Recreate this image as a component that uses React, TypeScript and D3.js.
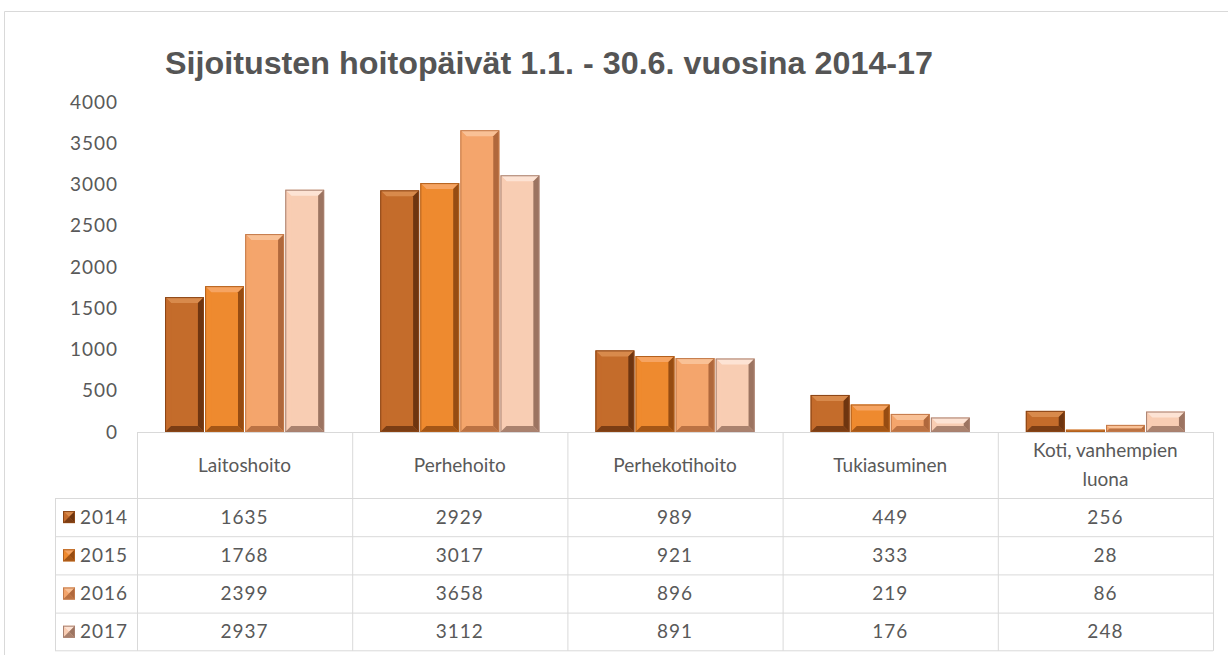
import React from "react";
import * as d3 from "d3";

const categories = ["Laitoshoito", "Perhehoito", "Perhekotihoito", "Tukiasuminen", "Koti, vanhempien luona"];
const years = ["2014", "2015", "2016", "2017"];
const values2014 = [1635, 2929, 989, 449, 256];
const values2015 = [1768, 3017, 921, 333, 28];
const values2016 = [2399, 3658, 896, 219, 86];
const values2017 = [2937, 3112, 891, 176, 248];
const yTicks = [0, 500, 1000, 1500, 2000, 2500, 3000, 3500, 4000];

const series = [values2014, values2015, values2016, values2017];

// face / light / dark per year
const palette = [
  { face: "#c46c2b", light: "#d88a4c", dark: "#6e3510", line: "#8a4516" },
  { face: "#ee8a2f", light: "#f6a462", dark: "#964c12", line: "#b3601c" },
  { face: "#f4a56c", light: "#f9c196", dark: "#b0683c", line: "#c37a4a" },
  { face: "#f8cdb3", light: "#fde3d4", dark: "#9c7461", line: "#a88070" },
];

const W = 1228, H = 655;
const plotLeft = 137, plotRight = 1213;
const baseY = 432, topY = 102;
const headerBottom = 498;
const rowH = 38.2;
const legendLeft = 55;
const gridColor = "#d9d9d9";
const textColor = "#595959";
const tableFont = "Lato, 'Open Sans', sans-serif";

function Bevel({ x, y, w, h, c }: { x: number; y: number; w: number; h: number; c: typeof palette[0] }) {
  if (h <= 0) return null;
  const b = Math.min(6, h / 2, w / 2);
  const x2 = x + w, y2 = y + h;
  const top = `M${x},${y}L${x2},${y}L${x2 - b},${y + b}L${x + b},${y + b}Z`;
  const left = `M${x},${y}L${x + b},${y + b}L${x + b},${y2 - b}L${x},${y2}Z`;
  const right = `M${x2},${y}L${x2},${y2}L${x2 - b},${y2 - b}L${x2 - b},${y + b}Z`;
  const bottom = `M${x},${y2}L${x + b},${y2 - b}L${x2 - b},${y2 - b}L${x2},${y2}Z`;
  return (
    <g>
      <rect x={x} y={y} width={w} height={h} fill={c.face} />
      <path d={top} fill={c.light} />
      <path d={left} fill={c.face} opacity={0.9} />
      <path d={right} fill={c.dark} />
      <path d={bottom} fill={c.dark} opacity={0.85} />
      <rect x={x + 0.5} y={y + 0.5} width={Math.max(0, w - 1)} height={Math.max(0, h - 1)} fill="none" stroke={c.line} strokeWidth={1} />
    </g>
  );
}

export default function App() {
  const y = d3.scaleLinear().domain([0, 4000]).range([baseY, topY]);
  const x0 = d3.scaleBand<string>().domain(categories).range([plotLeft, plotRight]).padding(0);
  const x1 = d3.scaleBand<string>().domain(years).range([0, x0.bandwidth()]).paddingInner(0.03).paddingOuter(0.7);

  const rowY = (i: number) => headerBottom + i * rowH;
  const tableBottom = rowY(years.length);
  const numStyle = { letterSpacing: "1px" };

  return (
    <div style={{ position: "fixed", left: 0, top: 0 }}>
      <svg width={W} height={H} style={{ display: "block", background: "#fff" }}>
        {/* chart border */}
        <line x1={4.5} y1={11.5} x2={W} y2={11.5} stroke={gridColor} />
        <line x1={4.5} y1={11.5} x2={4.5} y2={H} stroke={gridColor} />

        <text x={165} y={74} fontFamily="'Liberation Sans', Arial, sans-serif" fontWeight="bold" fontSize={32} fill="#555555"
          textLength={768} lengthAdjust="spacingAndGlyphs">
          Sijoitusten hoitopäivät 1.1. - 30.6. vuosina 2014-17
        </text>

        {/* y axis labels */}
        {yTicks.map((t) => (
          <text key={t} x={118} y={y(t)} dy="0.35em" textAnchor="end" fontFamily={tableFont} fontSize={19} fill={textColor} style={numStyle}>
            {t}
          </text>
        ))}

        {/* bars */}
        {categories.map((cat, ci) => (
          <g key={cat}>
            {years.map((yr, si) => {
              const v = series[si][ci];
              const bx = (x0(cat) as number) + (x1(yr) as number);
              return <Bevel key={yr} x={bx} y={y(v)} w={x1.bandwidth()} h={baseY - y(v)} c={palette[si]} />;
            })}
          </g>
        ))}

        {/* data table grid */}
        <line x1={plotLeft} y1={baseY + 0.5} x2={plotRight} y2={baseY + 0.5} stroke={gridColor} />
        {years.map((_, i) => (
          <line key={i} x1={legendLeft} y1={rowY(i) + 0.5} x2={plotRight} y2={rowY(i) + 0.5} stroke={gridColor} />
        ))}
        <line x1={legendLeft} y1={tableBottom} x2={plotRight} y2={tableBottom} stroke={gridColor} />
        <line x1={legendLeft + 0.5} y1={headerBottom} x2={legendLeft + 0.5} y2={tableBottom} stroke={gridColor} />
        {categories.map((cat) => (
          <line key={cat} x1={(x0(cat) as number) + 0.5} y1={baseY} x2={(x0(cat) as number) + 0.5} y2={tableBottom} stroke={gridColor} />
        ))}
        <line x1={plotRight + 0.5} y1={baseY} x2={plotRight + 0.5} y2={tableBottom} stroke={gridColor} />

        {/* category headers */}
        {categories.map((cat) => {
          const cx = (x0(cat) as number) + x0.bandwidth() / 2;
          const parts = cat === "Koti, vanhempien luona" ? ["Koti, vanhempien", "luona"] : [cat];
          const cy = (baseY + headerBottom) / 2;
          return (
            <text key={cat} x={cx} textAnchor="middle" fontFamily={tableFont} fontSize={19} fill={textColor}>
              {parts.map((p, i) => (
                <tspan key={i} x={cx} y={cy + (i - (parts.length - 1) / 2) * 29} dy="0.35em">
                  {p}
                </tspan>
              ))}
            </text>
          );
        })}

        {/* rows */}
        {years.map((yr, si) => {
          const cy = rowY(si) + rowH / 2;
          return (
            <g key={yr}>
              <Bevel x={63} y={cy - 6} w={12} h={12} c={palette[si]} />
              <text x={80} y={cy} dy="0.35em" fontFamily={tableFont} fontSize={19} fill={textColor} style={numStyle}>
                {yr}
              </text>
              {categories.map((cat, ci) => (
                <text key={cat} x={(x0(cat) as number) + x0.bandwidth() / 2} y={cy} dy="0.35em" textAnchor="middle" fontFamily={tableFont} fontSize={19} fill={textColor} style={numStyle}>
                  {series[si][ci]}
                </text>
              ))}
            </g>
          );
        })}
      </svg>
    </div>
  );
}
